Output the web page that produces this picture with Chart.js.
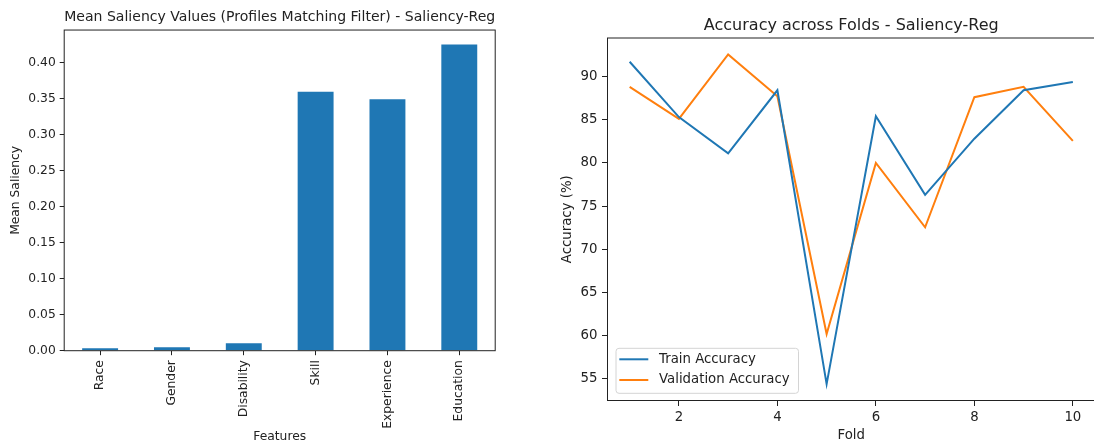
<!DOCTYPE html>
<html>
<head>
<meta charset="utf-8">
<script src="https://cdn.jsdelivr.net/npm/chart.js@4.4.0/dist/chart.umd.min.js"></script>
<style>
  html, body { margin: 0; padding: 0; background: #fff; overflow: hidden; }
  #wrap { position: relative; width: 1094px; height: 448px; overflow: hidden; }
  #saliency { position: absolute; left: 0; top: 0; }
  #folds { position: absolute; left: 540px; top: 0; }
</style>
</head>
<body>
<div id="wrap">
  <canvas id="saliency" width="540" height="448"></canvas>
  <canvas id="folds" width="556" height="448"></canvas>
</div>
<script>
// left panel: mean saliency per feature
const features = ["Race", "Gender", "Disability", "Skill", "Experience", "Education"];
const meanSaliency = [0.0033, 0.0047, 0.0103, 0.3597, 0.3495, 0.4255];
const saliencyTicks = [0, 0.05, 0.10, 0.15, 0.20, 0.25, 0.30, 0.35, 0.40];

// right panel: accuracy per fold
const folds = [1, 2, 3, 4, 5, 6, 7, 8, 9, 10];
const trainAcc = [91.7, 85.3, 81.1, 88.4, 54.4, 85.4, 76.3, 82.8, 88.4, 89.35];
const valAcc = [88.8, 85.1, 92.55, 87.7, 60.2, 80.0, 72.55, 87.6, 88.8, 82.55];
const foldTicks = [2, 4, 6, 8, 10];
const accTicks = [55, 60, 65, 70, 75, 80, 85, 90];

const ink = "#222";
const blue = "#1f77b4";
const orange = "#ff7f0e";
Chart.defaults.font.family = "'DejaVu Sans', sans-serif";

// box around the plot area, like a matplotlib axes
const frame = {
  id: "frame",
  afterDatasetsDraw(chart) {
    const { ctx, chartArea: a } = chart;
    ctx.save();
    ctx.strokeStyle = ink;
    ctx.lineWidth = 1;
    ctx.strokeRect(a.left, a.top, a.right - a.left, a.bottom - a.top);
    ctx.restore();
  }
};

// legend drawn inside the plot, lower left
const boxLegend = {
  id: "boxLegend",
  afterDraw(chart) {
    const { ctx, chartArea: a } = chart;
    const x = a.left + 8.5, y = a.bottom - 52.2, w = 182.5, h = 45;
    ctx.save();
    ctx.fillStyle = "rgba(255,255,255,0.8)";
    ctx.strokeStyle = "#d4d4d4";
    ctx.lineWidth = 1;
    ctx.beginPath();
    ctx.roundRect(x, y, w, h, 3);
    ctx.fill();
    ctx.stroke();
    ctx.font = "13.3px 'DejaVu Sans'";
    ctx.textBaseline = "middle";
    chart.data.datasets.forEach((ds, i) => {
      const ly = y + 11 + i * 20.7;
      ctx.strokeStyle = ds.borderColor;
      ctx.lineWidth = 2;
      ctx.beginPath();
      ctx.moveTo(x + 3.3, ly);
      ctx.lineTo(x + 32.3, ly);
      ctx.stroke();
      ctx.fillStyle = ink;
      ctx.fillText(ds.label, x + 43, ly);
    });
    ctx.restore();
  }
};

new Chart(document.getElementById("saliency"), {
  type: "bar",
  data: {
    labels: features,
    datasets: [{
      data: meanSaliency,
      backgroundColor: blue,
      barPercentage: 0.5,
      categoryPercentage: 1.0
    }]
  },
  options: {
    responsive: false,
    animation: false,
    devicePixelRatio: 1,
    layout: { padding: { left: 0, right: 44.8, top: 0, bottom: 0 } },
    plugins: {
      legend: { display: false },
      tooltip: { enabled: false },
      title: {
        display: true,
        fullSize: false,
        text: "Mean Saliency Values (Profiles Matching Filter) - Saliency-Reg",
        color: ink,
        font: { size: 14.7, weight: "normal" },
        padding: { top: 8.4, bottom: 4.0 }
      }
    },
    scales: {
      x: {
        afterFit: s => { s.height = 97.3; },
        grid: { offset: false, drawOnChartArea: false, tickLength: 4.5, color: ink },
        border: { display: false },
        ticks: { color: ink, font: { size: 12.3 }, minRotation: 90, maxRotation: 90, autoSkip: false, padding: 5 },
        title: { display: true, text: "Features", color: ink, font: { size: 12.3 }, padding: { top: 0, bottom: 3.5 } }
      },
      y: {
        min: 0,
        max: 0.4455,
        afterFit: s => { s.width = 64.2; },
        afterBuildTicks: s => { s.ticks = saliencyTicks.map(v => ({ value: v })); },
        grid: { drawOnChartArea: false, tickLength: 4.5, color: ink },
        border: { display: false },
        ticks: { color: ink, font: { size: 12.3 }, padding: 4, callback: v => v.toFixed(2) },
        title: { display: true, text: "Mean Saliency", color: ink, font: { size: 12.3 }, padding: { top: 8.6, bottom: 0 } }
      }
    }
  },
  plugins: [frame]
});

new Chart(document.getElementById("folds"), {
  type: "line",
  data: {
    datasets: [
      {
        label: "Train Accuracy",
        data: folds.map((f, i) => ({ x: f, y: trainAcc[i] })),
        borderColor: blue,
        borderWidth: 2,
        pointRadius: 0,
        tension: 0
      },
      {
        label: "Validation Accuracy",
        data: folds.map((f, i) => ({ x: f, y: valAcc[i] })),
        borderColor: orange,
        borderWidth: 2,
        pointRadius: 0,
        tension: 0
      }
    ]
  },
  options: {
    responsive: false,
    animation: false,
    devicePixelRatio: 1,
    layout: { padding: { left: 0, right: 1, top: 0, bottom: 0 } },
    plugins: {
      legend: { display: false },
      tooltip: { enabled: false },
      title: {
        display: true,
        fullSize: false,
        text: "Accuracy across Folds - Saliency-Reg",
        color: ink,
        font: { size: 16, weight: "normal" },
        padding: { top: 15.9, bottom: 2.9 }
      }
    },
    scales: {
      x: {
        type: "linear",
        min: 0.55,
        max: 10.45,
        afterFit: s => { s.height = 47.5; },
        afterBuildTicks: s => { s.ticks = foldTicks.map(v => ({ value: v })); },
        grid: { drawOnChartArea: false, tickLength: 5.5, color: ink },
        border: { display: false },
        ticks: { color: ink, font: { size: 13.3 }, padding: 4 },
        title: { display: true, text: "Fold", color: ink, font: { size: 13.3 }, padding: { top: 0, bottom: 4 } }
      },
      y: {
        min: 52.5,
        max: 94.45,
        afterFit: s => { s.width = 67.5; },
        afterBuildTicks: s => { s.ticks = accTicks.map(v => ({ value: v })); },
        grid: { drawOnChartArea: false, tickLength: 5.5, color: ink },
        border: { display: false },
        ticks: { color: ink, font: { size: 13.3 }, padding: 4.5 },
        title: { display: true, text: "Accuracy (%)", color: ink, font: { size: 13.3 }, padding: { top: 20, bottom: 0 } }
      }
    }
  },
  plugins: [frame, boxLegend]
});
</script>
</body>
</html>
